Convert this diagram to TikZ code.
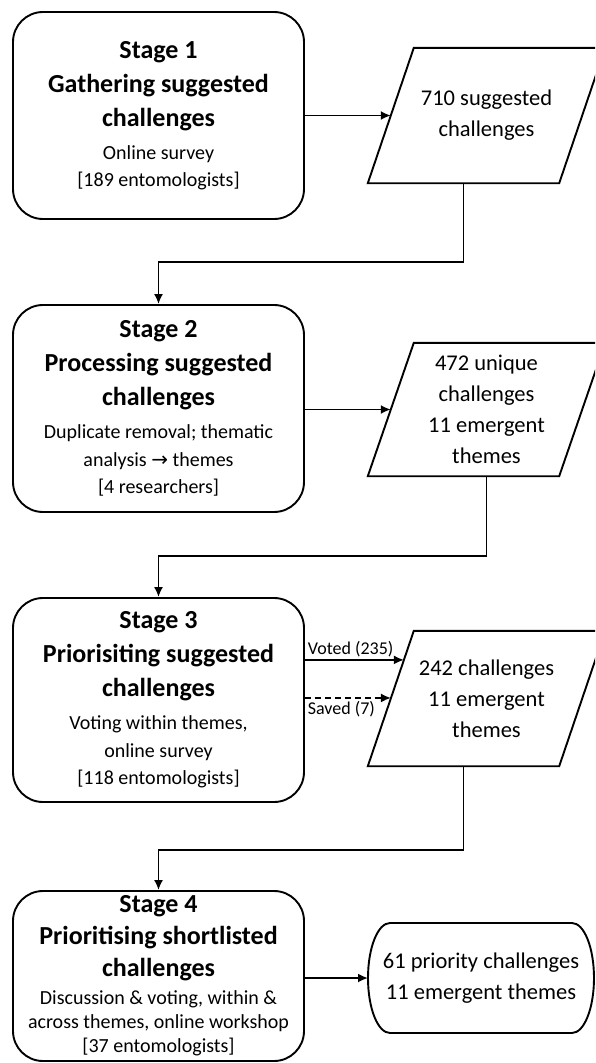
\documentclass[tikz,border=0pt]{standalone}
\usepackage{fontspec}
\setmainfont{Carlito}
\newfontfamily\arrowfont{DejaVu Sans}
\usetikzlibrary{arrows.meta,calc}
\newcommand\stagettl[1]{{\bfseries\fontsize{26}{27.5}\selectfont #1}}
\tikzset{
  boxline/.style={line width=1.9pt},
  stagebox/.style={draw, boxline, rounded corners=30pt, minimum width=291pt,
    align=center, inner sep=0pt, font=\fontsize{20}{27.5}\selectfont},
  databox/.style={minimum width=191pt, inner sep=0pt, align=center,
    font=\fontsize{22.5}{31}\selectfont},
  conn/.style={line width=1.8pt, -{Latex[length=10pt,width=9pt]}},
  dconn/.style={conn, dash pattern=on 6pt off 4pt},
  lbl/.style={font=\fontsize{18}{20}\selectfont, inner sep=2pt}
}
\begin{document}
\begin{tikzpicture}[x=1pt,y=-1pt]
\useasboundingbox (0,0) rectangle (595,1063);
\clip (0,0) rectangle (595,1063);

% Stage boxes
\node[stagebox, minimum height=207pt] (s1) at (158.5,115.5)
  {\stagettl{Stage 1}\\[6.5pt]\stagettl{Gathering suggested}\\[6.5pt]\stagettl{challenges}\\[5.5pt]Online survey\\{}[189 entomologists]};
\node[stagebox, minimum height=207pt] (s2) at (158.5,408.5)
  {\stagettl{Stage 2}\\[6.5pt]\stagettl{Processing suggested}\\[6.5pt]\stagettl{challenges}\\[5.5pt]Duplicate removal; thematic\\analysis {\arrowfont\fontsize{20}{20}\selectfont →} themes\\{}[4 researchers]};
\node[stagebox, minimum height=204pt] (s3) at (158.5,700)
  {\stagettl{Stage 3}\\[6.5pt]\stagettl{Priorisiting suggested}\\[6.5pt]\stagettl{challenges}\\[5.5pt]Voting within themes,\\online survey\\{}[118 entomologists]};
\node[stagebox, minimum height=170pt, font=\fontsize{20}{24}\selectfont] (s4) at (158.5,976)
  {\stagettl{Stage 4}\\[8pt]\stagettl{Prioritising shortlisted}\\[8pt]\stagettl{challenges}\\[4pt]Discussion \& voting, within \&\\across themes, online workshop\\{}[37 entomologists]};

% Data (parallelogram) boxes
\node[databox, minimum height=135pt] (p1) at (486.5,115.5) {710 suggested\\challenges};
\node[databox, minimum height=133pt] (p2) at (486.5,409.5) {472 unique\\challenges\\11 emergent\\themes};
\node[databox, minimum height=135pt] (p3) at (486.5,698.5) {242 challenges\\11 emergent\\themes};
\foreach \p in {p1,p2,p3}{
  \draw[boxline] ([xshift=23pt]\p.north west) -- ([xshift=23pt]\p.north east)
    -- ([xshift=-23pt]\p.south east) -- ([xshift=-23pt]\p.south west) -- cycle;
}

% Output terminator
\node[databox, minimum width=182pt, minimum height=110pt] (out) at (481,978)
  {61 priority challenges\\11 emergent themes};
\draw[boxline] ([shift={(-91pt,55pt)}]out.center) -- ([shift={(91pt,55pt)}]out.center)
  arc[start angle=90, end angle=-90, x radius=22pt, y radius=55pt]
  -- ([shift={(-91pt,-55pt)}]out.center)
  arc[start angle=270, end angle=90, x radius=22pt, y radius=55pt] -- cycle;
\coordinate (outw) at ([xshift=-113pt]out.center);

% Helper coordinates on the left edge of p3
\coordinate (tl3) at ([xshift=23pt]p3.north west);
\coordinate (bl3) at ([xshift=-23pt]p3.south west);
\coordinate (vot) at ($(tl3)!0.215!(bl3)$);
\coordinate (sav) at ($(tl3)!0.496!(bl3)$);

% Horizontal connectors
\draw[conn] (s1.east |- p1.west) -- (p1.west);
\draw[conn] (s2.east |- p2.west) -- (p2.west);
\draw[conn] (vot -| s3.east) -- (vot)
  node[lbl, at start, anchor=south west] {Voted (235)};
\draw[dconn] (sav -| s3.east) -- (sav)
  node[lbl, at start, anchor=north west] {Saved (7)};
\draw[conn] (s4.east |- outw) -- (outw);

% Elbow connectors between stages
\draw[conn] ([xshift=-23pt]p1.south) |- ([yshift=42pt]s2.north) -- (s2.north);
\draw[conn] (p2.south) |- ([yshift=41pt]s3.north) -- (s3.north);
\draw[conn] ([xshift=-23pt]p3.south) |- ([yshift=40pt]s4.north) -- (s4.north);
\end{tikzpicture}
\end{document}
